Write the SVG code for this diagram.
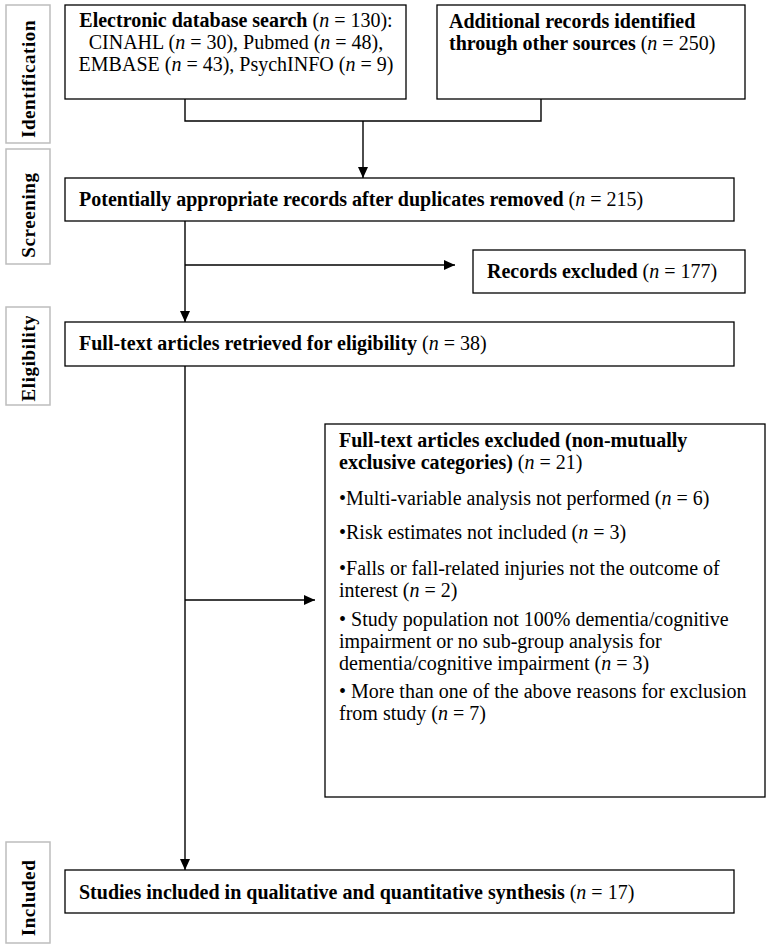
<svg xmlns="http://www.w3.org/2000/svg" width="771" height="945" viewBox="0 0 771 945">
<style>
  .box { fill: #fff; stroke: #000; stroke-width: 1.3; }
  .side { fill: #fff; stroke: #bdbdbd; stroke-width: 1.5; }
  .t { font-family: "Liberation Serif", "Times New Roman", serif; font-size: 20px; fill: #000; }
  .b { font-weight: bold; }
  .n { font-style: italic; font-weight: normal; }
  .r { font-weight: normal; }
  .lab { font-family: "Liberation Serif", "Times New Roman", serif; font-size: 19px; font-weight: bold; letter-spacing: 0.6px; fill: #000; }
  .ln { fill: none; stroke: #000; stroke-width: 1.4; }
</style>
<defs>
  <marker id="ah" markerUnits="userSpaceOnUse" markerWidth="12" markerHeight="10" refX="11" refY="5" orient="auto">
    <path d="M0,0 L11,5 L0,10 Z" fill="#000"/>
  </marker>
  <clipPath id="clipElig"><rect x="6" y="316" width="44" height="89"/></clipPath>
</defs>
<rect width="771" height="945" fill="#fff"/>

<g id="label-identification">
  <rect class="side" x="6" y="5" width="44" height="138"/>
  <text class="lab" transform="translate(35,79) rotate(-90)" text-anchor="middle">Identification</text>
</g>
<g id="label-screening">
  <rect class="side" x="6" y="149" width="44" height="115"/>
  <text class="lab" transform="translate(35,215) rotate(-90)" text-anchor="middle">Screening</text>
</g>
<g id="label-eligibility">
  <rect class="side" x="6" y="307" width="44" height="98"/>
  <g clip-path="url(#clipElig)">
    <text class="lab" transform="translate(35,358) rotate(-90)" text-anchor="middle">Eligibility</text>
  </g>
</g>
<g id="label-included">
  <rect class="side" x="6" y="842" width="44" height="101"/>
  <text class="lab" transform="translate(35,898) rotate(-90)" text-anchor="middle">Included</text>
</g>

<g id="connectors">
  <polyline class="ln" points="185,99 185,121 541,121 541,99"/>
  <line class="ln" x1="363" y1="121" x2="363" y2="178" marker-end="url(#ah)"/>
  <line class="ln" x1="185" y1="221" x2="185" y2="322" marker-end="url(#ah)"/>
  <line class="ln" x1="185" y1="265" x2="455" y2="265" marker-end="url(#ah)"/>
  <line class="ln" x1="185" y1="366" x2="185" y2="870" marker-end="url(#ah)"/>
  <line class="ln" x1="185" y1="600" x2="315" y2="600" marker-end="url(#ah)"/>
</g>

<g id="node-database">
  <rect class="box" x="65" y="5" width="341" height="94"/>
  <text class="t" x="236" y="27" text-anchor="middle"><tspan class="b">Electronic database search</tspan> (<tspan class="n">n</tspan> = 130):</text>
  <text class="t" x="236" y="49" text-anchor="middle">CINAHL (<tspan class="n">n</tspan> = 30), Pubmed (<tspan class="n">n</tspan> = 48),</text>
  <text class="t" x="236" y="71" text-anchor="middle">EMBASE (<tspan class="n">n</tspan> = 43), PsychINFO (<tspan class="n">n</tspan> = 9)</text>
</g>
<g id="node-additional">
  <rect class="box" x="437" y="5" width="308" height="94"/>
  <text class="t b" x="449" y="28">Additional records identified</text>
  <text class="t b" x="449" y="50">through other sources <tspan class="r">(</tspan><tspan class="n">n</tspan><tspan class="r"> = 250)</tspan></text>
</g>
<g id="node-screened">
  <rect class="box" x="65" y="178" width="669" height="43"/>
  <text class="t b" x="79" y="206">Potentially appropriate records after duplicates removed <tspan class="r">(</tspan><tspan class="n">n</tspan><tspan class="r"> = 215)</tspan></text>
</g>
<g id="node-records-excluded">
  <rect class="box" x="473" y="250" width="272" height="43"/>
  <text class="t b" x="487" y="278">Records excluded <tspan class="r">(</tspan><tspan class="n">n</tspan><tspan class="r"> = 177)</tspan></text>
</g>
<g id="node-fulltext">
  <rect class="box" x="65" y="322" width="669" height="44"/>
  <text class="t b" x="79" y="350">Full-text articles retrieved for eligibility <tspan class="r">(</tspan><tspan class="n">n</tspan><tspan class="r"> = 38)</tspan></text>
</g>
<g id="node-fulltext-excluded">
  <rect class="box" x="325" y="424" width="440" height="373"/>
  <text class="t b" x="339" y="447">Full-text articles excluded (non-mutually</text>
  <text class="t b" x="339" y="469">exclusive categories) <tspan class="r">(</tspan><tspan class="n">n</tspan><tspan class="r"> = 21)</tspan></text>
  <text class="t" x="339" y="505">•Multi-variable analysis not performed (<tspan class="n">n</tspan> = 6)</text>
  <text class="t" x="339" y="539">•Risk estimates not included (<tspan class="n">n</tspan> = 3)</text>
  <text class="t" x="339" y="575">•Falls or fall-related injuries not the outcome of</text>
  <text class="t" x="339" y="597">interest (<tspan class="n">n</tspan> = 2)</text>
  <text class="t" x="339" y="626">• Study population not 100% dementia/cognitive</text>
  <text class="t" x="339" y="648">impairment or no sub-group analysis for</text>
  <text class="t" x="339" y="670">dementia/cognitive impairment (<tspan class="n">n</tspan> = 3)</text>
  <text class="t" x="339" y="698">• More than one of the above reasons for exclusion</text>
  <text class="t" x="339" y="720">from study (<tspan class="n">n</tspan> = 7)</text>
</g>
<g id="node-included">
  <rect class="box" x="65" y="870" width="669" height="43"/>
  <text class="t b" x="79" y="899">Studies included in qualitative and quantitative synthesis <tspan class="r">(</tspan><tspan class="n">n</tspan><tspan class="r"> = 17)</tspan></text>
</g>
</svg>
